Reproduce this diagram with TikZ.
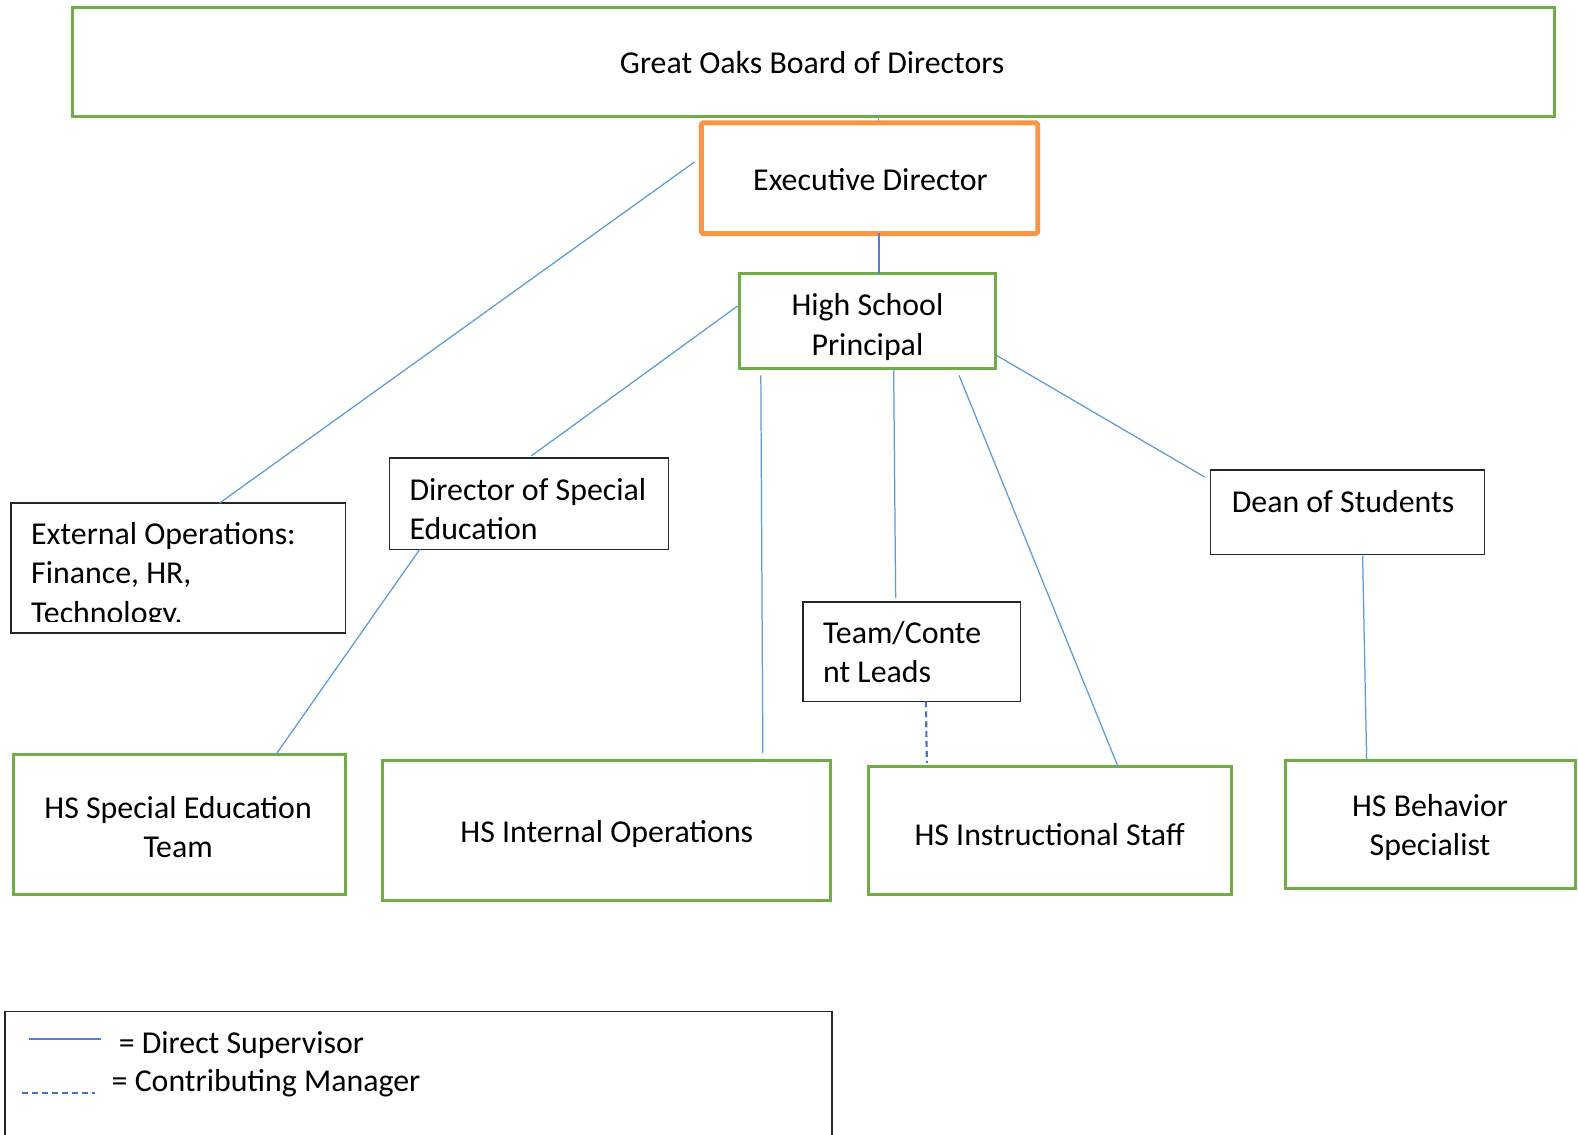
\documentclass[tikz,border=0pt]{standalone}
\usepackage{fontspec}
\setmainfont{Carlito}
\usetikzlibrary{calc}
\definecolor{boxgreen}{HTML}{70AD47}
\definecolor{edorange}{HTML}{F79646}
\definecolor{linkblue}{HTML}{5B9BD5}
\definecolor{darkblue}{HTML}{4472C4}
\begin{document}
\begin{tikzpicture}[x=0.01cm,y=-0.01cm,
  every node/.style={font=\fontsize{9}{11.1}\selectfont, inner sep=0pt, outer sep=0pt},
  greenbox/.style={draw=boxgreen, line width=0.85pt, rectangle, anchor=north west},
  orangebox/.style={draw=edorange, line width=1.4pt, rectangle, anchor=north west, rounded corners=0.5pt},
  plainbox/.style={draw=black!85, line width=0.45pt, rectangle, anchor=north west},
  ctext/.style={align=center, anchor=center},
  ltext/.style={align=left, anchor=west},
  link/.style={draw=linkblue, line width=0.35pt},
  trunk/.style={draw=darkblue!90, line width=0.6pt},
  contrib/.style={draw=darkblue, line width=0.6pt, dash pattern=on 1.7pt off 1.1pt}]
\clip (0,0) rectangle (1568,1127);
\fill[white] (0,0) rectangle (1568,1127);

% ---- boxes ----
\node[greenbox, minimum width=14.72cm, minimum height=1.09cm] (board) at (72,7) {};
\node[orangebox, minimum width=3.34cm, minimum height=1.10cm] (ed) at (697,122) {};
\node[greenbox, minimum width=2.54cm, minimum height=0.94cm] (hsp) at (735,272) {};
\node[plainbox, minimum width=2.77cm, minimum height=0.91cm] (dose) at (387,455) {};
\node[plainbox, minimum width=3.32cm, minimum height=1.29cm] (ext) at (11,500) {};
\node[plainbox, minimum width=2.16cm, minimum height=0.99cm] (tcl) at (798,598) {};
\node[plainbox, minimum width=2.72cm, minimum height=0.84cm] (dean) at (1203,467) {};
\node[greenbox, minimum width=3.30cm, minimum height=1.39cm] (sped) at (13,750) {};
\node[greenbox, minimum width=4.45cm, minimum height=1.39cm] (intops) at (380,756) {};
\node[greenbox, minimum width=3.60cm, minimum height=1.27cm] (instr) at (863,762) {};
\node[greenbox, minimum width=2.88cm, minimum height=1.27cm] (behav) at (1277,756) {};
\node[plainbox, minimum width=8.21cm, minimum height=1.40cm] (legend) at (5,1005) {};

% ---- labels ----
\node[ctext] (boardT) at (807,62) {Great Oaks Board of Directors};
\node[ctext] (edT) at (865,178) {Executive Director};
\node[ctext] (hspT) at (862,325) {High School\\Principal};
\node[ltext] (doseT) at (407,506) {Director of Special\\Education};
\begin{scope}
  \clip (11,500) rectangle (343,618);
  \node[ltext] (extT) at (31,572) {External Operations:\\Finance, HR,\\Technology,};
\end{scope}
\node[ltext] (tclT) at (818,648) {Team/Conte\\nt Leads};
\node[ltext] (deanT) at (1224,498) {Dean of Students};
\node[ctext] (spedT) at (177,822) {HS Special Education\\Team};
\node[ctext] (intopsT) at (603,829) {HS Internal Operations};
\node[ctext] (instrT) at (1043,829) {HS Instructional Staff};
\node[ctext] (behavT) at (1421,822) {HS Behavior\\Specialist};

% ---- connector end points ----
\coordinate (board-ed1) at (873,116);
\coordinate (board-ed2) at (873,122);
\coordinate (ed-s) at (873,232);
\coordinate (hsp-n) at (873,272);
\coordinate (ed-w) at (690,161);
\coordinate (ext-n) at (218,500);
\coordinate (hsp-w) at (733,304);
\coordinate (dose-n) at (528,453);
\coordinate (dose-s) at (417,546);
\coordinate (sped-n) at (274,750);
\coordinate (hsp-s1) at (756,373);
\coordinate (intops-n) at (758,748);
\coordinate (hsp-s2) at (888,367);
\coordinate (tcl-n) at (890,594);
\coordinate (hsp-s3) at (953,373);
\coordinate (instr-n) at (1111,762);
\coordinate (hsp-e) at (990,353);
\coordinate (dean-w) at (1197,474);
\coordinate (dean-s) at (1354,552);
\coordinate (behav-n) at (1358,755);
\coordinate (tcl-s) at (920,697);
\coordinate (instr-n2) at (921,758);

% ---- reporting lines ----
\draw[link, draw=gray!70] (board-ed1) -- (board-ed2);
\draw[trunk] (ed-s) -- (hsp-n);
\draw[link] (ed-w) -- (ext-n);
\draw[link] (hsp-w) -- (dose-n);
\draw[link] (dose-s) -- (sped-n);
\draw[link] (hsp-s1) -- (intops-n);
\draw[link] (hsp-s2) -- (tcl-n);
\draw[link] (hsp-s3) -- (instr-n);
\draw[link] (hsp-e) -- (dean-w);
\draw[link] (dean-s) -- (behav-n);
\draw[contrib] (tcl-s) -- (instr-n2);

% ---- legend ----
\coordinate (solidA) at (29,1032);
\coordinate (solidB) at (100,1032);
\coordinate (dashA) at (22,1086);
\coordinate (dashB) at (94,1086);
\draw[draw=darkblue!90, line width=0.55pt] (solidA) -- (solidB);
\draw[contrib] (dashA) -- (dashB);
\node[ltext] (legSolid) at (118,1038) {= Direct Supervisor};
\node[ltext] (legDash) at (111,1076) {= Contributing Manager};
\end{tikzpicture}
\end{document}
